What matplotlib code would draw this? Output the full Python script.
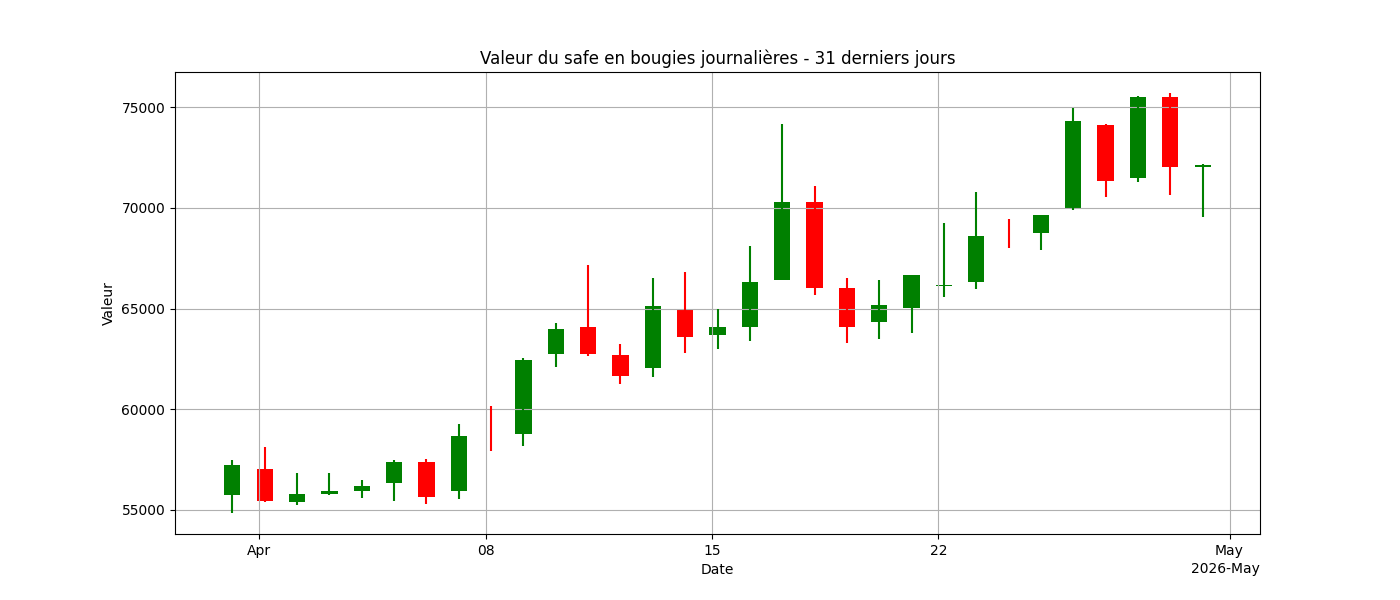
import matplotlib
matplotlib.use("Agg")
import matplotlib.pyplot as plt
import matplotlib.dates as mdates
import numpy as np
import pandas as pd

# daily candles, 31 last days (NaN open/close = only the wick is known)
dates = pd.date_range("2026-03-31 04:00", periods=31, freq="D")
opens = [55717, 57017, 55383, 55783, 55917, 56317, 57367, 55917, np.nan, 58746,
         62756, 64076, 62690, 62046, 64967, 63680, 64076, 66403, 70314, 66007,
         64323, 65017, 66100, 66330, np.nan, 68767, 70017, 74117, 71467, 75517,
         72040]
closes = [57217, 55433, 55767, 55917, 56167, 57367, 55617, 58667, np.nan, 62442,
          63977, 62756, 61650, 65116, 63581, 64076, 66304, 70314, 66007, 64076,
          65165, 66650, 66150, 68630, np.nan, 69667, 74317, 71333, 75517, 72017,
          72120]
highs = [57467, 58117, 56817, 56817, 56467, 57467, 57517, 59267, 60167, 62541,
         64274, 67145, 63234, 66502, 66799, 64967, 68086, 74175, 71106, 66502,
         66403, 66650, 69270, 70813, 69467, 69667, 74967, 74167, 75567, 75717,
         72167]
lows = [54833, 55383, 55233, 55717, 55583, 55433, 55283, 55533, 57937, 58185,
        62096, 62640, 61254, 61601, 62789, 62987, 63399, 66403, 65660, 63284,
        63482, 63779, 65590, 65987, 68017, 67917, 69917, 70567, 71267, 70667,
        69567]

df = pd.DataFrame({"Open": opens, "Close": closes, "High": highs, "Low": lows},
                  index=dates)
colors = np.where(df["Close"] >= df["Open"], "green", "red")

fig, ax = plt.subplots(figsize=(14, 6), dpi=100)

ax.vlines(df.index, df["Low"], df["High"], colors=colors, linewidth=1.5)
body = df["Open"].notna()
ax.bar(df.index[body], (df["Close"] - df["Open"])[body], width=0.5,
       bottom=df["Open"][body], color=colors[body.values])

locator = mdates.DayLocator(bymonthday=[1, 8, 15, 22])
ax.xaxis.set_major_locator(locator)
ax.xaxis.set_major_formatter(mdates.ConciseDateFormatter(locator))

ax.set_title("Valeur du safe en bougies journalières - 31 derniers jours")
ax.set_xlabel("Date")
ax.set_ylabel("Valeur")
ax.grid(True)

fig.savefig("out.png")
